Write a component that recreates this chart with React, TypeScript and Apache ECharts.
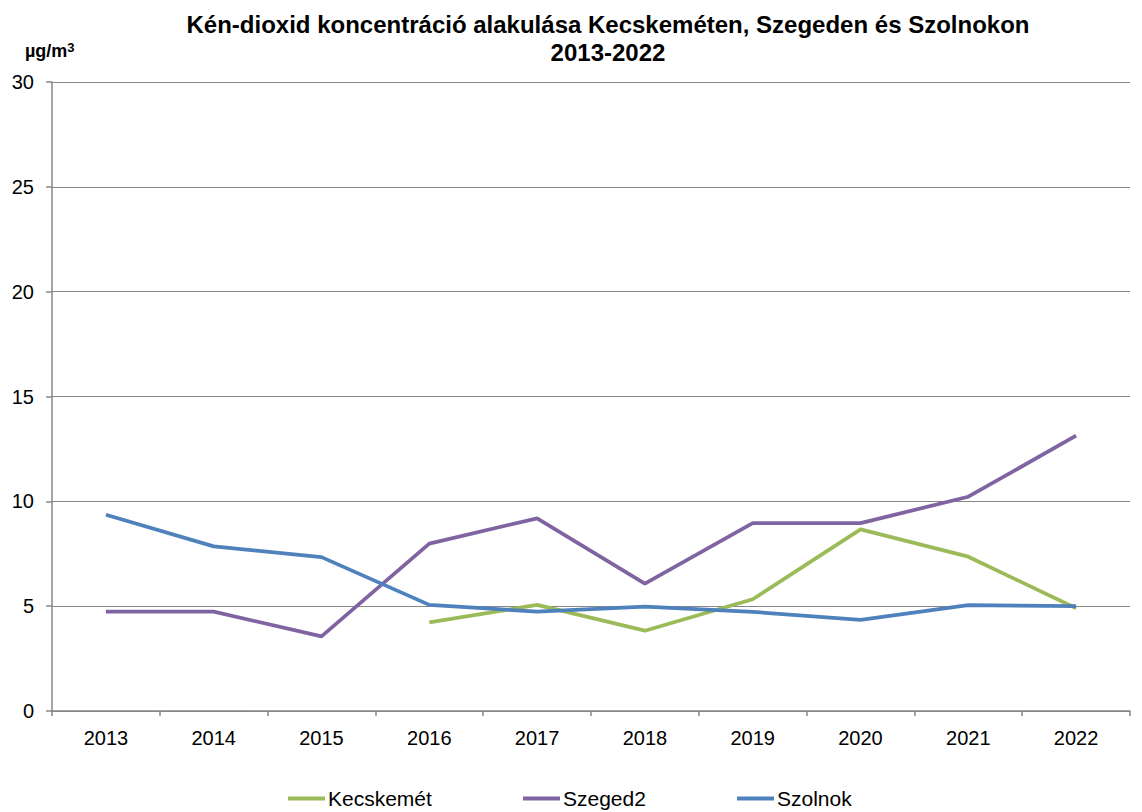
import React, { useEffect, useRef } from "react";
import * as echarts from "echarts";

const years = ["2013", "2014", "2015", "2016", "2017", "2018", "2019", "2020", "2021", "2022"];
const kecskemet = [null, null, null, 4.23, 5.06, 3.83, 5.33, 8.66, 7.36, 4.9];
const szeged2 = [4.74, 4.74, 3.56, 7.98, 9.19, 6.08, 8.96, 8.96, 10.22, 13.13];
const szolnok = [9.36, 7.85, 7.34, 5.06, 4.74, 4.98, 4.73, 4.35, 5.05, 5.0];

const seriesNames = ["Kecskemét", "Szeged2", "Szolnok"];
const colors = ["#9BBB59", "#8064A2", "#4F81BD"];
const legendLefts = [288, 523, 737];

export default function App() {
  const ref = useRef<HTMLDivElement>(null);
  useEffect(() => {
    if (!ref.current) return;
    const chart = echarts.init(ref.current, undefined, { renderer: "svg" });
    const font = "'Liberation Sans', Arial, sans-serif";
    const dataSets = [kecskemet, szeged2, szolnok];
    chart.setOption({
      animation: false,
      backgroundColor: "#ffffff",
      textStyle: { fontFamily: font },
      title: [
        {
          text: "Kén-dioxid koncentráció alakulása Kecskeméten, Szegeden és Szolnokon\n2013-2022",
          left: 608,
          textAlign: "center",
          top: 10,
          padding: 0,
          textStyle: { fontFamily: font, fontSize: 24, fontWeight: "bold", color: "#000", lineHeight: 28 },
        },
        {
          text: "{a|µg/m}{b|3}",
          left: 25,
          top: 41,
          padding: 0,
          textStyle: {
            fontFamily: font,
            rich: {
              a: { fontFamily: font, fontSize: 18, fontWeight: "bold", color: "#000", lineHeight: 20 },
              b: { fontFamily: font, fontSize: 13, fontWeight: "bold", color: "#000", verticalAlign: "top", lineHeight: 20, padding: [0, 0, 8, 0] },
            },
          },
        },
      ],
      legend: seriesNames.map((n, i) => ({
        data: [n],
        left: legendLefts[i],
        top: 788,
        padding: 0,
        icon: "rect",
        itemWidth: 37,
        itemHeight: 4,
        textStyle: { fontFamily: font, fontSize: 21, color: "#000", padding: [0, 0, 0, -2] },
      })),
      grid: { left: 52, right: 12, top: 82, bottom: 101, containLabel: false },
      xAxis: {
        type: "category",
        data: years,
        boundaryGap: true,
        axisLine: { lineStyle: { color: "#878787", width: 1.5 } },
        axisTick: { show: true, length: 5, lineStyle: { color: "#878787", width: 1.5 } },
        axisLabel: { color: "#000", fontSize: 20, fontFamily: font, margin: 17 },
      },
      yAxis: {
        type: "value",
        min: 0,
        max: 30,
        interval: 5,
        axisLine: { show: true, lineStyle: { color: "#878787", width: 1.5 } },
        axisTick: { show: true, length: 6, lineStyle: { color: "#878787", width: 1.5 } },
        axisLabel: { color: "#000", fontSize: 20, fontFamily: font, margin: 18 },
        splitLine: { lineStyle: { color: "#878787", width: 1.2 } },
      },
      series: seriesNames.map((n, i) => ({
        name: n,
        type: "line",
        data: dataSets[i],
        symbol: "none",
        connectNulls: false,
        color: colors[i],
        lineStyle: { color: colors[i], width: 3.75 },
        itemStyle: { color: colors[i] },
      })),
    });
    return () => chart.dispose();
  }, []);
  return <div ref={ref} style={{ width: 1142, height: 812, position: "fixed", left: 0, top: 0 }} />;
}
